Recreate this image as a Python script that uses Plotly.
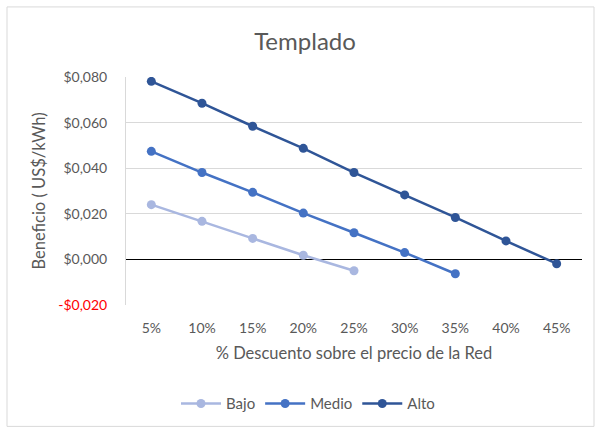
import plotly.graph_objects as go

# Discount levels on the grid price (category axis)
descuentos = ["5%", "10%", "15%", "20%", "25%", "30%", "35%", "40%", "45%"]

# Benefit (US$/kWh) per scenario
bajo = [0.024, 0.0167, 0.0092, 0.0018, -0.0050]
medio = [0.0474, 0.0381, 0.0294, 0.0203, 0.0117, 0.0030, -0.0063]
alto = [0.0781, 0.0685, 0.0584, 0.0487, 0.0381, 0.0283, 0.0184, 0.0081, -0.0019]

# Value axis ticks
y_ticks = [-0.02, 0.0, 0.02, 0.04, 0.06, 0.08]
y_labels = ['<span style="color:#FF0000">-$0,020</span>', "$0,000", "$0,020",
            "$0,040", "$0,060", "$0,080"]

series = [
    ("Bajo", bajo, "#A9B7E0"),
    ("Medio", medio, "#4472C4"),
    ("Alto", alto, "#2F5597"),
]

font_family = "Lato, Carlito, Calibri, sans-serif"
gray = "#595959"

fig = go.Figure()
for name, vals, color in series:
    fig.add_trace(go.Scatter(
        x=descuentos[:len(vals)], y=vals, name=name,
        mode="lines+markers",
        line=dict(color=color, width=2.5),
        marker=dict(color=color, size=9),
    ))

W, H = 595, 432
L, R, T, B = 126, 13, 77, 124
pw, ph = W - L - R, H - T - B

fig.update_layout(
    width=W, height=H,
    margin=dict(l=L, r=R, t=T, b=B),
    paper_bgcolor="white", plot_bgcolor="white",
    font=dict(family=font_family, color=gray, size=14),
    title=dict(text="Templado", x=305 / W, xanchor="center",
               y=1 - 42 / H, yanchor="middle",
               font=dict(size=24, color=gray, family=font_family)),
    showlegend=True,
    legend=dict(orientation="h", x=(308 - L) / pw, xanchor="center",
                y=(H - B - 408) / ph, yanchor="middle",
                font=dict(size=15, color=gray), itemwidth=40,
                traceorder="normal"),
    xaxis=dict(
        type="category", categoryorder="array", categoryarray=descuentos,
        range=[-0.5, len(descuentos) - 0.5],
        showgrid=False, zeroline=False, showline=False,
        ticks="", ticklabelstandoff=13,
        tickfont=dict(size=14, color=gray),
        title=dict(text="% Descuento sobre el precio de la Red",
                   font=dict(size=16.5, color=gray), standoff=12),
    ),
    yaxis=dict(
        range=[-0.02, 0.08],
        tickvals=y_ticks, ticktext=y_labels,
        showgrid=True, gridcolor="#D9D9D9", gridwidth=1,
        zeroline=True, zerolinecolor="#000000", zerolinewidth=1,
        showline=True, linecolor="#D9D9D9", linewidth=1,
        ticks="", ticklabelstandoff=15,
        tickfont=dict(size=14, color=gray),
        title=dict(text="Beneficio ( US$/kWh)",
                   font=dict(size=16.5, color=gray), standoff=8),
    ),
)

# Chart area border
fig.add_shape(type="rect", xref="paper", yref="paper",
              x0=(7 - L) / pw, x1=(W - 1 - L) / pw,
              y0=(H - B - (H - 1)) / ph, y1=(H - B - 6) / ph,
              line=dict(color="#D9D9D9", width=1), fillcolor="rgba(0,0,0,0)",
              layer="below")

fig.write_html("out.html")
